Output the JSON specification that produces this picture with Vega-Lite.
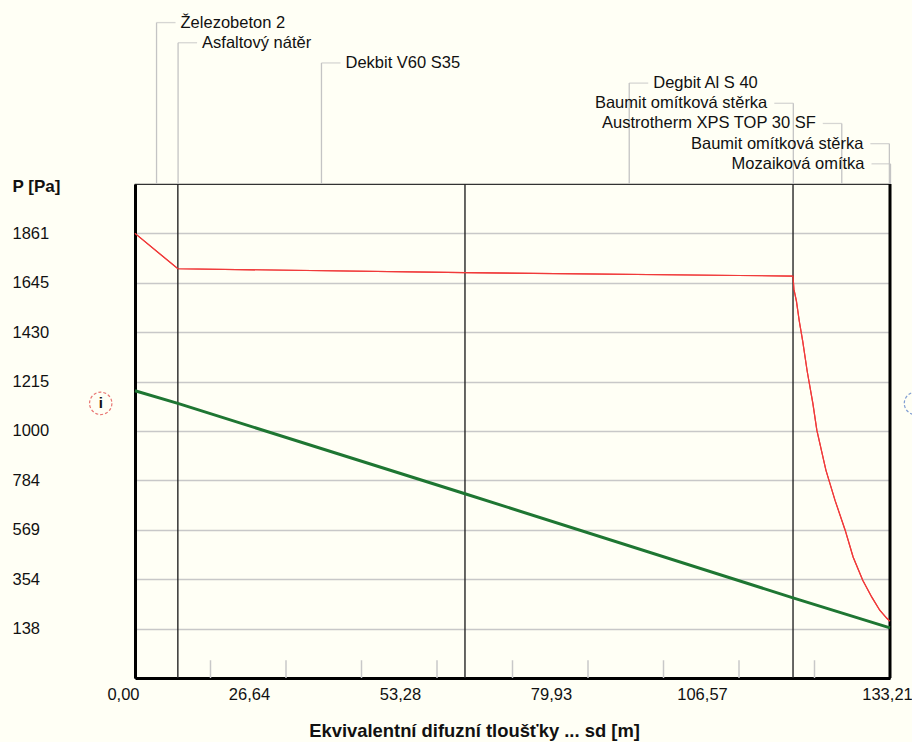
{
  "$schema": "https://vega.github.io/schema/vega-lite/v6.json",
  "width": 755,
  "height": 494,
  "autosize": "none",
  "padding": {"left": 135, "top": 184, "right": 22, "bottom": 64},
  "background": "#fffff5",
  "config": {
    "font": "Liberation Sans",
    "view": {"stroke": "#333333", "strokeWidth": 1.2},
    "axis": {"labelFont": "Liberation Sans", "titleFont": "Liberation Sans", "labelColor": "#111111", "titleColor": "#111111"}
  },
  "datasets": {
    "pressure": [
      {"series": "psat", "sd": 0, "p": 1861},
      {"series": "psat", "sd": 7.56, "p": 1707},
      {"series": "psat", "sd": 58.22, "p": 1690},
      {"series": "psat", "sd": 116.1, "p": 1675},
      {"series": "psat", "sd": 116.25, "p": 1618},
      {"series": "psat", "sd": 116.7, "p": 1566},
      {"series": "psat", "sd": 117.2, "p": 1479},
      {"series": "psat", "sd": 117.8, "p": 1392},
      {"series": "psat", "sd": 118.6, "p": 1260},
      {"series": "psat", "sd": 119.6, "p": 1120},
      {"series": "psat", "sd": 120.3, "p": 1003},
      {"series": "psat", "sd": 121.9, "p": 829},
      {"series": "psat", "sd": 123.5, "p": 698},
      {"series": "psat", "sd": 125.3, "p": 567},
      {"series": "psat", "sd": 126.7, "p": 450},
      {"series": "psat", "sd": 128.4, "p": 349},
      {"series": "psat", "sd": 130.0, "p": 275},
      {"series": "psat", "sd": 131.4, "p": 218},
      {"series": "psat", "sd": 132.65, "p": 183},
      {"series": "psat", "sd": 133.21, "p": 170},
      {"series": "p", "sd": 0, "p": 1175},
      {"series": "p", "sd": 7.56, "p": 1120},
      {"series": "p", "sd": 58.22, "p": 726},
      {"series": "p", "sd": 116.1, "p": 272},
      {"series": "p", "sd": 133.21, "p": 141}
    ],
    "boundaries": [
      {"sd": 7.56}, {"sd": 58.22}, {"sd": 116.1}, {"sd": 133.21}
    ],
    "minorTicks": [
      {"sd": 13.321}, {"sd": 26.642}, {"sd": 39.963}, {"sd": 53.284}, {"sd": 66.605},
      {"sd": 79.926}, {"sd": 93.247}, {"sd": 106.568}, {"sd": 119.889}
    ],
    "sides": [
      {"side": "i", "sd": -6.05, "p": 1120},
      {"side": "e", "sd": 137.7, "p": 1120}
    ],
    "layers": [
      {"layer": "Železobeton 2", "order": 1, "sd_mid": 3.8},
      {"layer": "Asfaltový nátěr", "order": 2, "sd_mid": 7.6},
      {"layer": "Dekbit V60 S35", "order": 3, "sd_mid": 32.9},
      {"layer": "Degbit Al S 40", "order": 4, "sd_mid": 87.2},
      {"layer": "Baumit omítková stěrka", "order": 5, "sd_mid": 116.15},
      {"layer": "Austrotherm XPS TOP 30 SF", "order": 6, "sd_mid": 124.7},
      {"layer": "Baumit omítková stěrka", "order": 7, "sd_mid": 133.1},
      {"layer": "Mozaiková omítka", "order": 8, "sd_mid": 133.3}
    ]
  },
  "layer": [
    {
      "data": {"name": "pressure"},
      "transform": [{"filter": "datum.series == 'psat'"}],
      "mark": {"type": "line", "color": "#f03a3a", "strokeWidth": 1.2},
      "encoding": {
        "x": {
          "field": "sd", "type": "quantitative",
          "scale": {"domain": [0, 133.21]},
          "axis": {
            "title": "Ekvivalentní difuzní tloušťky ... sd [m]",
            "values": [0, 26.642, 53.284, 79.926, 106.568, 133.21],
            "labelExpr": "replace(format(datum.value, '.2f'), '.', ',')",
            "ticks": false, "grid": false,
            "domain": true, "domainColor": "#000000", "domainWidth": 3,
            "labelFontSize": 16.5, "labelPadding": 8, "labelOverlap": false, "labelFlush": false,
            "labelOffset": {
              "condition": [
                {"test": "datum.value == 0", "value": -12},
                {"test": "datum.value > 133", "value": -3}
              ],
              "value": -37
            },
            "titleFontSize": 18.4, "titleFontWeight": "bold", "titlePadding": 19, "titleX": 339
          }
        },
        "y": {
          "field": "p", "type": "quantitative",
          "scale": {"domain": [-77.4, 2076.4]},
          "axis": {
            "title": "P [Pa]",
            "values": [138, 354, 569, 784, 1000, 1215, 1430, 1645, 1861],
            "format": "d",
            "grid": true, "gridColor": "#c8c8c8", "gridWidth": 1.5,
            "ticks": false,
            "domain": true, "domainColor": "#000000", "domainWidth": 3,
            "labelAlign": "left", "labelBaseline": "middle", "labelPadding": 123, "labelFontSize": 16.5,
            "titleAngle": 0, "titleAlign": "left", "titleBaseline": "middle", "titleX": -123, "titleY": 2,
            "titleFontSize": 17, "titleFontWeight": "bold"
          }
        }
      }
    },
    {
      "data": {"name": "minorTicks"},
      "mark": {"type": "rule", "color": "#c8c8c8", "strokeWidth": 1.5},
      "encoding": {
        "x": {"field": "sd", "type": "quantitative", "scale": {"domain": [0, 133.21]}},
        "y": {"datum": -77.4, "type": "quantitative", "scale": {"domain": [-77.4, 2076.4]}, "axis": null},
        "y2": {"datum": 0}
      }
    },
    {
      "data": {"name": "boundaries"},
      "mark": {"type": "rule"},
      "encoding": {
        "x": {"field": "sd", "type": "quantitative", "scale": {"domain": [0, 133.21]}},
        "color": {"condition": {"test": "datum.sd > 133", "value": "#000000"}, "value": "#262626"},
        "strokeWidth": {"condition": {"test": "datum.sd > 133", "value": 3}, "value": 1.4}
      }
    },
    {
      "data": {"name": "pressure"},
      "transform": [{"filter": "datum.series == 'psat'"}],
      "mark": {"type": "line", "color": "#f03a3a", "strokeWidth": 1.2},
      "encoding": {
        "x": {"field": "sd", "type": "quantitative", "scale": {"domain": [0, 133.21]}},
        "y": {"field": "p", "type": "quantitative", "scale": {"domain": [-77.4, 2076.4]}, "axis": null}
      }
    },
    {
      "data": {"name": "pressure"},
      "transform": [{"filter": "datum.series == 'p'"}],
      "mark": {"type": "line", "color": "#1e7632", "strokeWidth": 3},
      "encoding": {
        "x": {"field": "sd", "type": "quantitative", "scale": {"domain": [0, 133.21]}},
        "y": {"field": "p", "type": "quantitative", "scale": {"domain": [-77.4, 2076.4]}, "axis": null}
      }
    },
    {
      "data": {"name": "sides"},
      "mark": {"type": "point", "shape": "circle", "size": 500, "filled": false, "strokeWidth": 1.2, "strokeDash": [3, 2]},
      "encoding": {
        "x": {"field": "sd", "type": "quantitative", "scale": {"domain": [0, 133.21]}},
        "y": {"field": "p", "type": "quantitative", "scale": {"domain": [-77.4, 2076.4]}, "axis": null},
        "stroke": {"field": "side", "type": "nominal", "scale": {"domain": ["i", "e"], "range": ["#e03c3c", "#4a74c4"]}, "legend": null}
      }
    },
    {
      "data": {"name": "sides"},
      "transform": [{"filter": "datum.side == 'i'"}],
      "mark": {"type": "text", "fontWeight": "bold", "fontSize": 15, "baseline": "middle", "align": "center", "color": "#111111"},
      "encoding": {
        "x": {"field": "sd", "type": "quantitative", "scale": {"domain": [0, 133.21]}},
        "y": {"field": "p", "type": "quantitative", "scale": {"domain": [-77.4, 2076.4]}, "axis": null},
        "text": {"field": "side"}
      }
    },
    {
      "data": {"name": "layers"},
      "mark": {"type": "rule", "color": "#c4c4c4", "strokeWidth": 1.3},
      "encoding": {
        "x": {"field": "sd_mid", "type": "quantitative", "scale": {"domain": [0, 133.21]}},
        "y": {"field": "order", "type": "quantitative", "scale": {"domain": [0, 9], "range": [-181.6, 0]}, "axis": null},
        "y2": {"datum": 9}
      }
    },
    {
      "data": {"name": "layers"},
      "transform": [{"filter": "datum.order <= 4"}],
      "mark": {"type": "tick", "orient": "horizontal", "size": 19, "thickness": 1.3, "xOffset": 9.5, "color": "#c4c4c4"},
      "encoding": {
        "x": {"field": "sd_mid", "type": "quantitative", "scale": {"domain": [0, 133.21]}},
        "y": {"field": "order", "type": "quantitative", "scale": {"domain": [0, 9], "range": [-181.6, 0]}, "axis": null}
      }
    },
    {
      "data": {"name": "layers"},
      "transform": [{"filter": "datum.order > 4"}],
      "mark": {"type": "tick", "orient": "horizontal", "size": 19, "thickness": 1.3, "xOffset": -9.5, "color": "#c4c4c4"},
      "encoding": {
        "x": {"field": "sd_mid", "type": "quantitative", "scale": {"domain": [0, 133.21]}},
        "y": {"field": "order", "type": "quantitative", "scale": {"domain": [0, 9], "range": [-181.6, 0]}, "axis": null}
      }
    },
    {
      "data": {"name": "layers"},
      "transform": [{"filter": "datum.order <= 4"}],
      "mark": {"type": "text", "align": "left", "baseline": "middle", "dx": 24, "fontSize": 16.5, "color": "#111111"},
      "encoding": {
        "x": {"field": "sd_mid", "type": "quantitative", "scale": {"domain": [0, 133.21]}},
        "y": {"field": "order", "type": "quantitative", "scale": {"domain": [0, 9], "range": [-181.6, 0]}, "axis": null},
        "text": {"field": "layer"}
      }
    },
    {
      "data": {"name": "layers"},
      "transform": [{"filter": "datum.order > 4"}],
      "mark": {"type": "text", "align": "right", "baseline": "middle", "dx": -26, "fontSize": 16.5, "color": "#111111"},
      "encoding": {
        "x": {"field": "sd_mid", "type": "quantitative", "scale": {"domain": [0, 133.21]}},
        "y": {"field": "order", "type": "quantitative", "scale": {"domain": [0, 9], "range": [-181.6, 0]}, "axis": null},
        "text": {"field": "layer"}
      }
    }
  ],
  "resolve": {"scale": {"y": "independent"}}
}
